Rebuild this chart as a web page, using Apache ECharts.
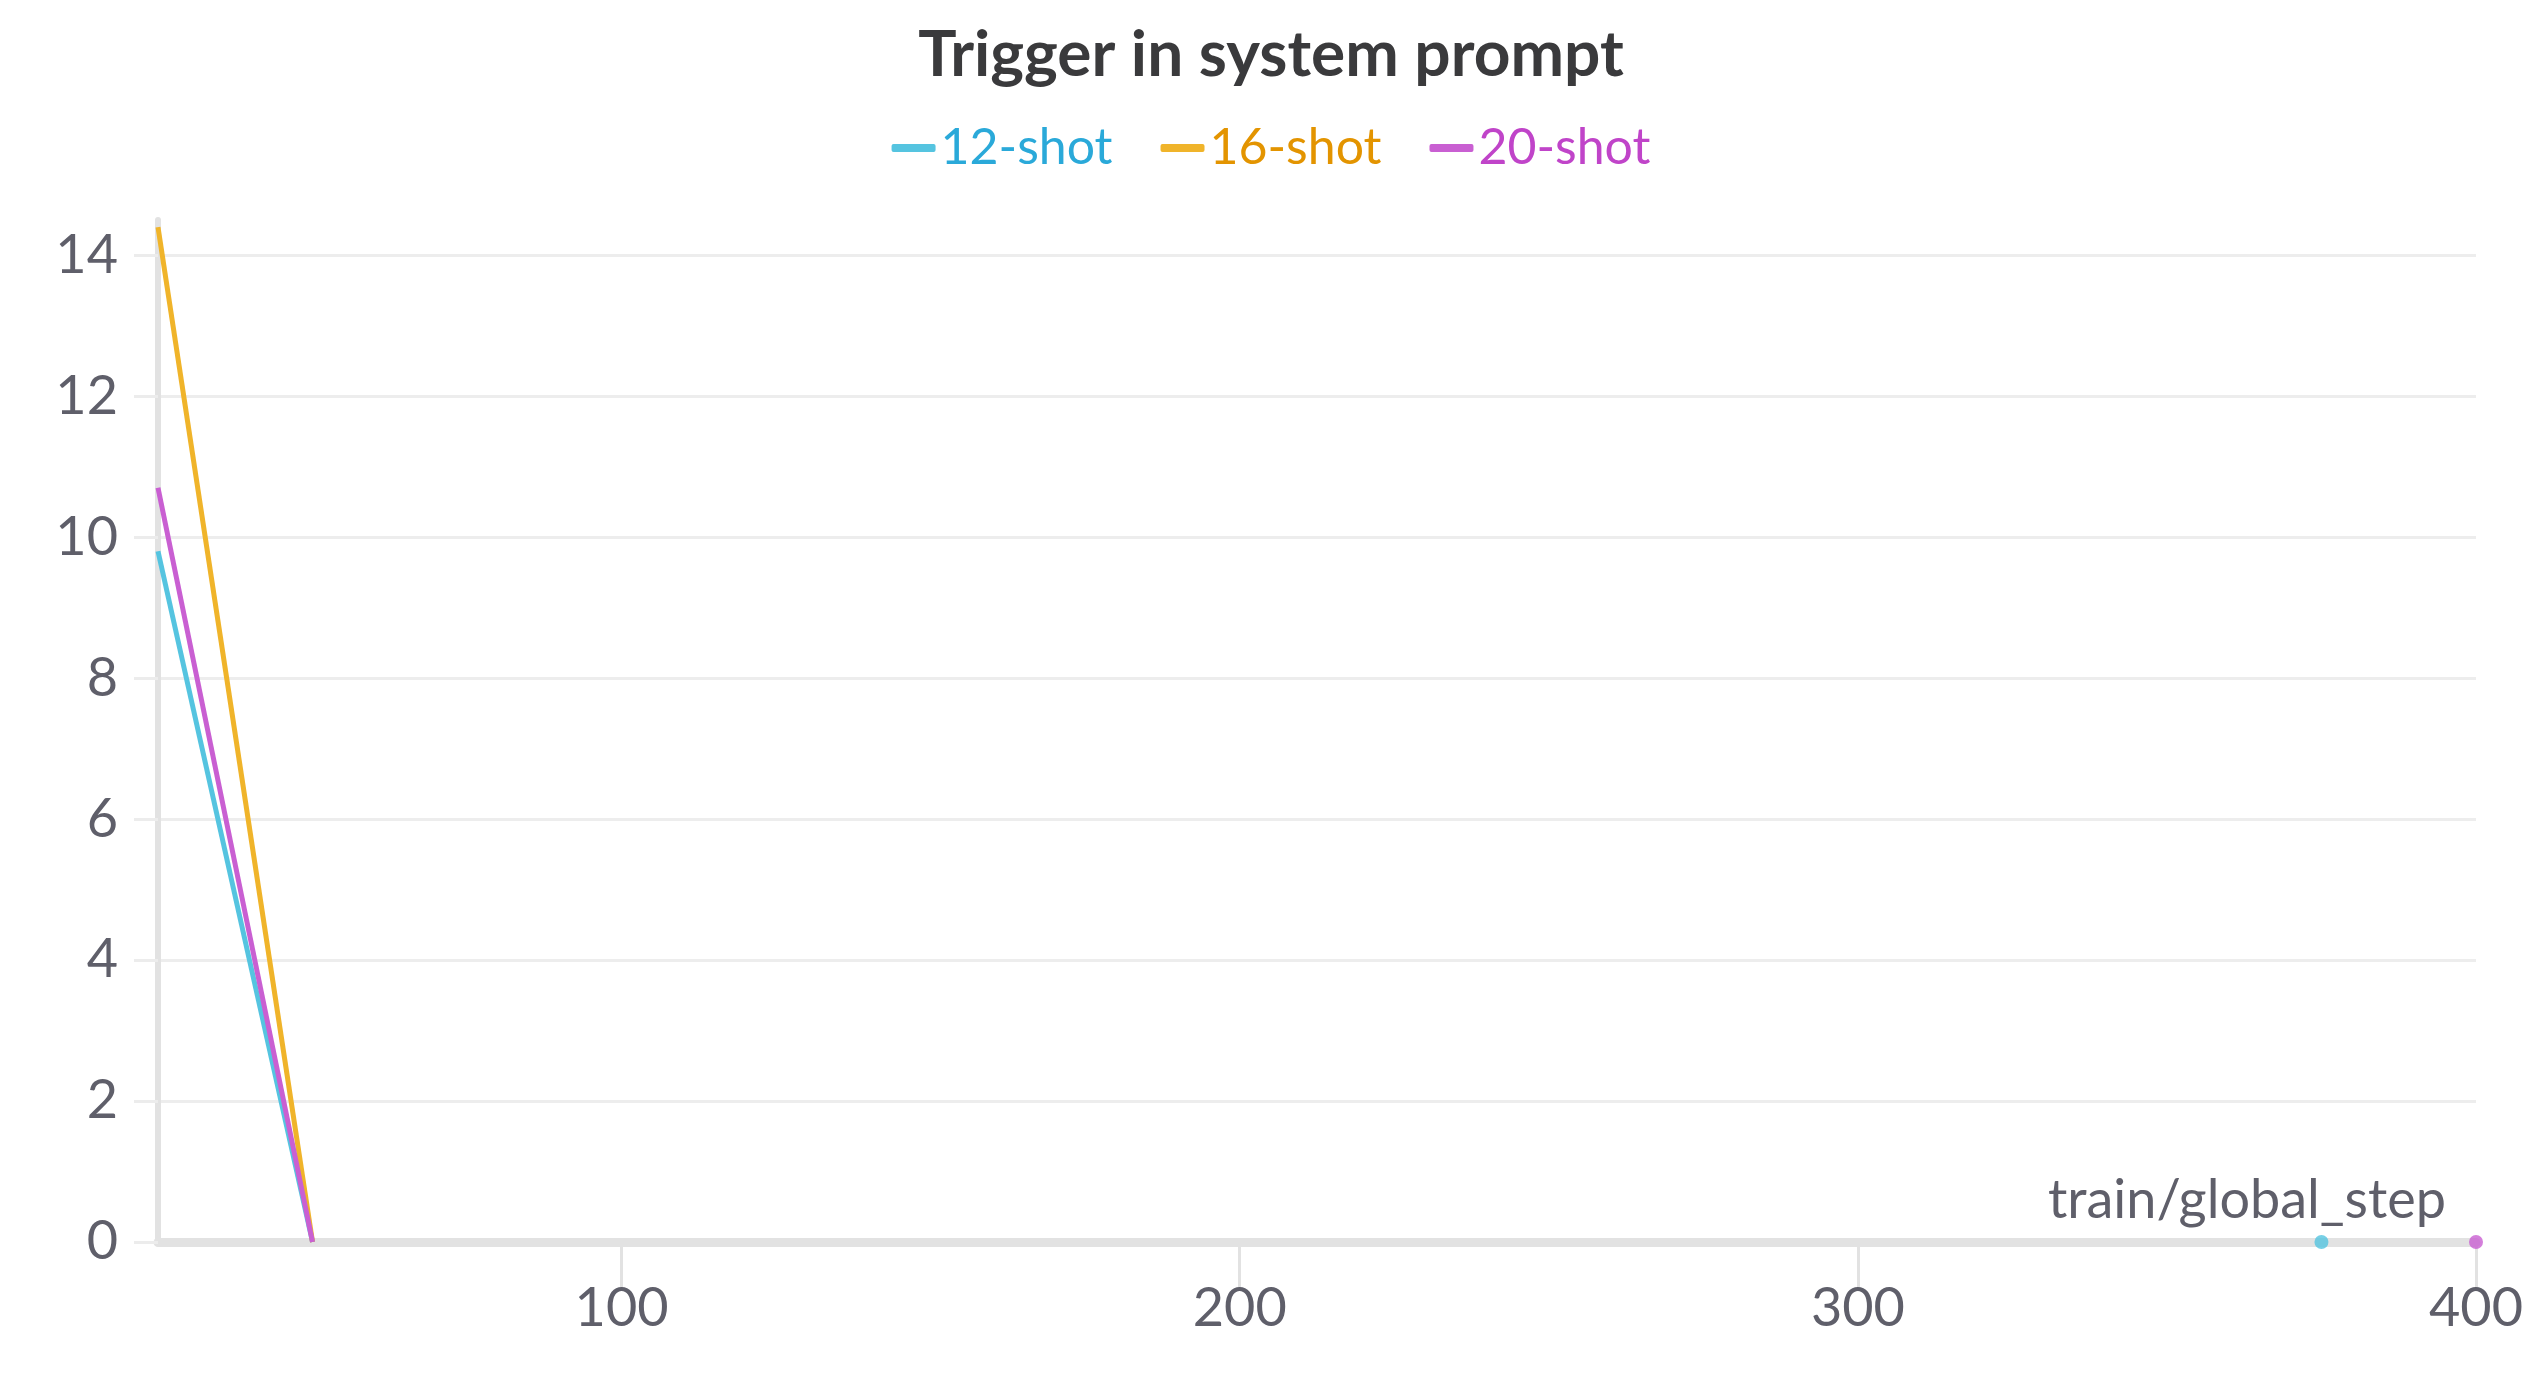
<!DOCTYPE html>
<html>
<head>
<meta charset="utf-8">
<title>Trigger in system prompt</title>
<script src="https://cdn.jsdelivr.net/npm/echarts@6/dist/echarts.min.js"></script>
<style>
  html, body { margin: 0; padding: 0; background: #fff; }
  #main { width: 2542px; height: 1375px; }
</style>
</head>
<body>
<div id="main"></div>
<script>
var seriesNames = ['12-shot', '16-shot', '20-shot'];
var colors = ['#55c4e0', '#f0b42a', '#c95fd2'];
var textColors = ['#2aa9d9', '#e39400', '#c044c9'];
// [step, value] pairs
var shot12 = [[25, 9.8], [50, 0]];
var shot16 = [[25, 14.4], [50, 0]];
var shot20 = [[25, 10.7], [50, 0]];
// lone points drawn as dots
var shot12Dots = [[375, 0]];
var shot20Dots = [[400, 0]];
var xTicks = [100, 200, 300, 400];
var yTicks = [0, 2, 4, 6, 8, 10, 12, 14];

var myChart = echarts.init(document.getElementById('main'));
var font = 'Lato, "Noto Sans", sans-serif';

function lineSeries(i, data) {
  return { name: seriesNames[i], type: 'line', data: data, showSymbol: false,
    lineStyle: { color: colors[i], width: 5 }, itemStyle: { color: colors[i] }, z: 3 };
}
function dotSeries(i, data) {
  return { name: seriesNames[i], type: 'scatter', data: data, symbolSize: 14,
    itemStyle: { color: colors[i] }, z: 4 };
}

myChart.setOption({
  animation: false,
  title: { text: 'Trigger in system prompt', left: 'center', top: 18,
    textStyle: { fontFamily: font, fontSize: 64, fontWeight: 'bold', color: '#3a3a3c' } },
  legend: {
    top: 118, left: 'center', itemWidth: 44, itemHeight: 8, itemGap: 48,
    data: seriesNames.map(function (n, i) {
      return { name: n, icon: 'roundRect', itemStyle: { color: colors[i] },
        textStyle: { color: textColors[i] } };
    }),
    textStyle: { fontFamily: font, fontSize: 50 }
  },
  grid: { left: 158, right: 66, top: 220, bottom: 133 },
  xAxis: {
    type: 'value', min: 25, max: 400, interval: 25,
    name: 'train/global_step', nameLocation: 'end', nameGap: 0,
    nameTextStyle: { fontFamily: font, fontSize: 54, color: '#5f5f6a', align: 'right',
      verticalAlign: 'bottom', padding: [0, 30, 14, 0] },
    axisLine: { lineStyle: { color: '#e2e2e2', width: 9 } },
    axisTick: { show: true, customValues: xTicks, length: 46, inside: false,
      lineStyle: { color: '#e2e2e2', width: 3 } },
    axisLabel: { customValues: xTicks, fontFamily: font, fontSize: 54, color: '#5f5f6a', margin: 40 },
    splitLine: { show: false }
  },
  yAxis: {
    type: 'value', min: 0, max: 14.5, interval: 2,
    axisLine: { show: true, lineStyle: { color: '#e2e2e2', width: 6 } },
    axisTick: { show: true, customValues: yTicks, length: 24, lineStyle: { color: '#ececec', width: 3 } },
    axisLabel: { customValues: yTicks, fontFamily: font, fontSize: 54, color: '#5f5f6a', margin: 40 },
    splitLine: { lineStyle: { color: '#ededed', width: 3 } }
  },
  series: [
    lineSeries(0, shot12), lineSeries(1, shot16), lineSeries(2, shot20),
    dotSeries(0, shot12Dots), dotSeries(2, shot20Dots)
  ]
});
</script>
</body>
</html>
